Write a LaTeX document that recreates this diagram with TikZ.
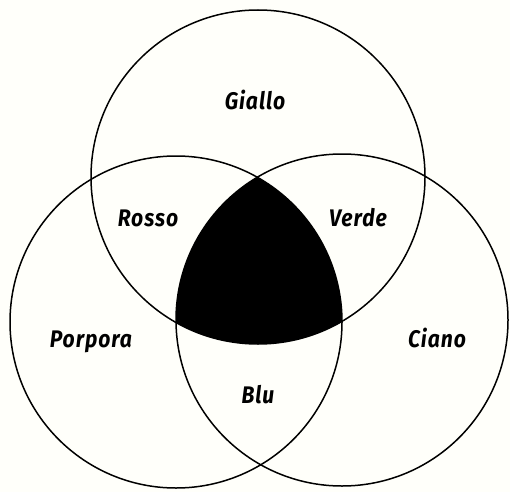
\documentclass[tikz,border=0pt]{standalone}
\usepackage{fontspec}
\setmainfont{Fira Sans}
\newfontfamily\lblfont{Fira Sans}[FakeStretch=0.88,LetterSpace=4]
\begin{document}
\begin{tikzpicture}[x=1pt,y=-1pt,
  ring/.style={draw=black,line width=1.5pt},
  lbl/.style={font=\lblfont\fontsize{24}{28}\selectfont\bfseries\itshape,inner sep=0pt}]
\fill[white!98!yellow] (0,0) rectangle (510,492);
\useasboundingbox (0,0) rectangle (510,492);
\coordinate (cT) at (258,177);
\coordinate (cL) at (176,322);
\coordinate (cR) at (342,320);
\begin{scope}
  \clip (cT) circle (167);
  \clip (cL) circle (166);
  \fill[black] (cR) circle (166);
\end{scope}
\draw[ring] (cT) circle (167);
\draw[ring] (cL) circle (166);
\draw[ring] (cR) circle (166);
\node[lbl] (giallo) at (255,100) {Giallo};
\node[lbl] (rosso) at (148,218) {Rosso};
\node[lbl] (verde) at (358,218) {Verde};
\node[lbl] (porpora) at (91,342) {Porpora};
\node[lbl] (ciano) at (437,338) {Ciano};
\node[lbl] (blu) at (258,395) {Blu};
\end{tikzpicture}
\end{document}
